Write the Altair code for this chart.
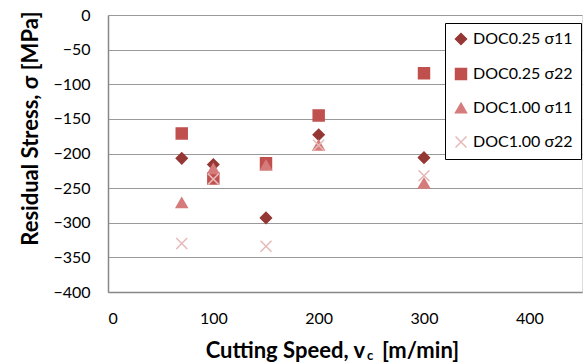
import altair as alt
import pandas as pd

speeds = [70, 100, 150, 200, 300]
doc025_s11 = [-207, -216, -293, -173, -206]
doc025_s22 = [-171, -236, -214, -145, -84]
doc100_s11 = [-271, -222, -217, -188, -243]
doc100_s22 = [-330, -237, -334, -188, -232]

series_names = ["DOC0.25 σ11", "DOC0.25 σ22", "DOC1.00 σ11", "DOC1.00 σ22"]
series_colors = ["#953735", "#C0504D", "#D67B7B", "#E6B9B8"]
series_shapes = ["diamond", "square", "triangle-up", "M-1,-1L1,1M-1,1L1,-1"]
x_ticks = [0, 100, 200, 300, 400]
y_ticks = [-400, -350, -300, -250, -200, -150, -100, -50, 0]

rows = []
for name, vals in zip(series_names, [doc025_s11, doc025_s22, doc100_s11, doc100_s22]):
    for s, v in zip(speeds, vals):
        rows.append({"speed": s, "stress": v, "series": name})
df = pd.DataFrame(rows)

FONT = "Lato"

legend = alt.Legend(
    title=None, orient="none", legendX=337, legendY=8,
    strokeColor="black", fillColor="white", padding=8, rowPadding=17,
    labelFont=FONT, labelFontSize=16, labelColor="black", labelOffset=4,
    symbolSize=120, symbolStrokeWidth=1.5,
)
cscale = alt.Scale(domain=series_names, range=series_colors)

points = alt.Chart(df).mark_point(size=120, strokeWidth=1.5, opacity=1).encode(
    x=alt.X("speed:Q", scale=alt.Scale(domain=[0, 450], nice=False),
            axis=alt.Axis(values=x_ticks, grid=False, ticks=False, title=None,
                          labelFont=FONT, labelFontSize=16, labelColor="black",
                          labelPadding=18, domainColor="#888888", domainWidth=1.5)),
    y=alt.Y("stress:Q", scale=alt.Scale(domain=[-400, 0], nice=False),
            axis=alt.Axis(values=y_ticks, grid=True, gridColor="#9a9a9a", gridWidth=1.2,
                          ticks=False, labelFont=FONT, labelFontSize=16, labelColor="black",
                          labelPadding=18, domainColor="#888888", domainWidth=1.5,
                          title="Residual Stress, σ [MPa]", titleFont=FONT,
                          titleFontSize=22, titleFontWeight="bold", titleColor="black",
                          titleX=-66, titleY=113)),
    fill=alt.Fill("series:N", scale=cscale, legend=legend, sort=series_names),
    stroke=alt.Stroke("series:N", scale=cscale, legend=legend, sort=series_names),
    shape=alt.Shape("series:N", scale=alt.Scale(domain=series_names, range=series_shapes),
                    legend=legend, sort=series_names),
    order=alt.Order("idx:Q"),
).transform_calculate(
    idx="indexof(" + str(series_names) + ", datum.series)"
)

t1 = alt.Chart(pd.DataFrame({"t": ["Cutting Speed, v"]})).mark_text(
    font=FONT, fontSize=22, fontWeight="bold", align="right", baseline="alphabetic", color="black"
).encode(x=alt.value(257), y=alt.value(343), text="t:N")
t2 = alt.Chart(pd.DataFrame({"t": ["c"]})).mark_text(
    font=FONT, fontSize=13, fontWeight="bold", align="left", baseline="alphabetic", color="black"
).encode(x=alt.value(259), y=alt.value(345), text="t:N")
t3 = alt.Chart(pd.DataFrame({"t": ["[m/min]"]})).mark_text(
    font=FONT, fontSize=22, fontWeight="bold", align="left", baseline="alphabetic", color="black"
).encode(x=alt.value(274), y=alt.value(343), text="t:N")

chart = alt.layer(points, t1, t2, t3).properties(
    width=474, height=277,
    autosize=alt.AutoSizeParams(type="none"),
    padding={"left": 108, "top": 15, "right": 3, "bottom": 70},
).configure_view(stroke="#888888", strokeWidth=1.2).configure(background="white")

chart.save("out.html", embed_options={"renderer": "svg", "actions": False})
